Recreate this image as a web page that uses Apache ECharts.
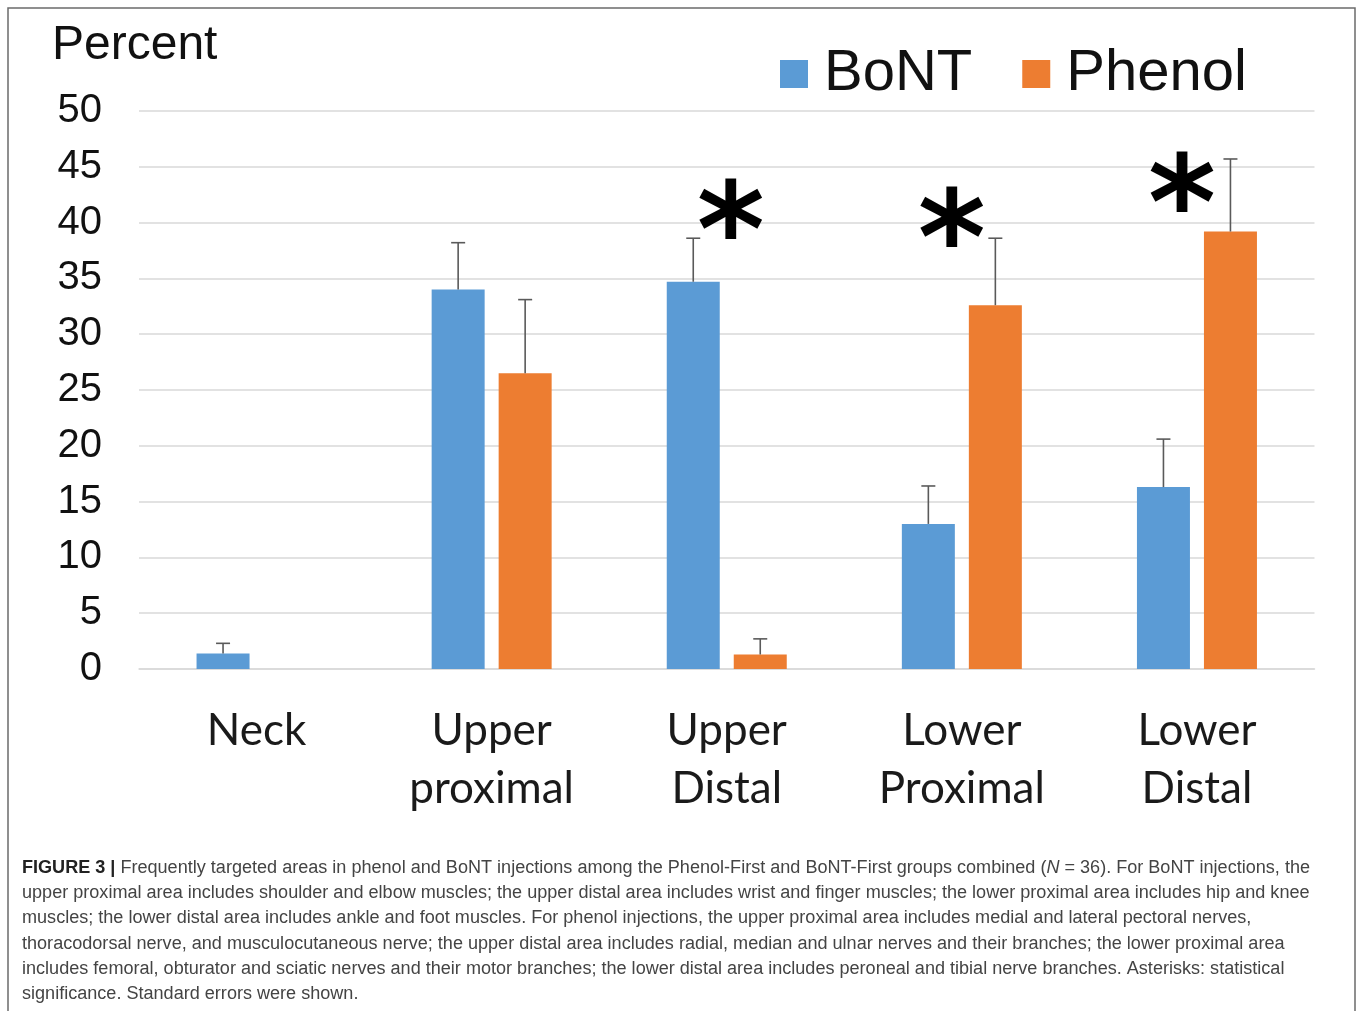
<!DOCTYPE html>
<html><head><meta charset="utf-8">
<script src="https://cdn.jsdelivr.net/npm/echarts@6/dist/echarts.min.js"></script>
<style>html,body{margin:0;padding:0;background:#fff}#c{width:1357px;height:1011px}</style>
</head><body><div id="c"></div>
<script>
// ---- data ----
const categories = ['Neck', 'Upper\nproximal', 'Upper\nDistal', 'Lower\nProximal', 'Lower\nDistal'];
const seriesNames = ['BoNT', 'Phenol'];
const bontValues = [1.4, 34.0, 34.7, 13.0, 16.3];
const phenolValues = [0, 26.5, 1.3, 32.6, 39.2];
const bontErrTop = [2.3, 38.2, 38.6, 16.4, 20.6];
const phenolErrTop = [null, 33.1, 2.7, 38.6, 45.7];
const asteriskCats = [2, 3, 4];
const asteriskValues = [41.4, 40.6, 43.8];
const yMin = 0, yMax = 50, yStep = 5;
const yTitle = 'Percent';
const captionLines = [
  'Frequently targeted areas in phenol and BoNT injections among the Phenol-First and BoNT-First groups combined (',
  'upper proximal area includes shoulder and elbow muscles; the upper distal area includes wrist and finger muscles; the lower proximal area includes hip and knee',
  'muscles; the lower distal area includes ankle and foot muscles. For phenol injections, the upper proximal area includes medial and lateral pectoral nerves,',
  'thoracodorsal nerve, and musculocutaneous nerve; the upper distal area includes radial, median and ulnar nerves and their branches; the lower proximal area',
  'includes femoral, obturator and sciatic nerves and their motor branches; the lower distal area includes peroneal and tibial nerve branches. Asterisks: statistical',
  'significance. Standard errors were shown.'
];
const captionLead = 'FIGURE 3 |';
const captionTail = ' = 36). For BoNT injections, the';

// ---- styles ----
const COL_B = '#5B9BD5', COL_P = '#ED7D31', ERR = '#5a5a5a';
const BAR_W = 53, BAR_GAP = 14;
const asteriskDx = [4, -10, -15];

const chart = echarts.init(document.getElementById('c'));

function errRender(offset) {
  return function (params, api) {
    const top = api.value(1);
    if (top == null || isNaN(top)) return;
    const pTop = api.coord([api.value(0), top]);
    const pBase = api.coord([api.value(0), api.value(2)]);
    const x = pTop[0] + offset;
    return {
      type: 'group', children: [
        { type: 'line', shape: { x1: x, y1: pBase[1], x2: x, y2: pTop[1] }, style: { stroke: ERR, lineWidth: 1.6 } },
        { type: 'line', shape: { x1: x - 7, y1: pTop[1], x2: x + 7, y2: pTop[1] }, style: { stroke: ERR, lineWidth: 1.6 } }
      ]
    };
  };
}

// caption measurement
const cv = document.createElement('canvas').getContext('2d');
const CAP_SIZE = 18;
cv.font = 'bold ' + CAP_SIZE + 'px "Liberation Sans"';
let w1 = cv.measureText(captionLead).width;
cv.font = CAP_SIZE + 'px "Liberation Sans"';
w1 += cv.measureText(' ' + captionLines[0]).width;
cv.font = 'italic ' + CAP_SIZE + 'px "Liberation Sans"';
w1 += cv.measureText('N').width;
cv.font = CAP_SIZE + 'px "Liberation Sans"';
w1 += cv.measureText(captionTail).width;
const capScale = 1288 / w1;

const captionGraphics = captionLines.map((line, i) => {
  const base = {
    type: 'text', x: 22, y: 868 + i * 25.2, scaleX: capScale, scaleY: 1,
    style: { fill: '#444', font: CAP_SIZE + 'px "Liberation Sans"', verticalAlign: 'middle', align: 'left' }
  };
  if (i === 0) {
    base.style.text = '{b|' + captionLead + '} ' + line + '{i|N}' + captionTail;
    base.style.rich = {
      b: { fontWeight: 'bold', fontSize: CAP_SIZE, fontFamily: 'Liberation Sans', fill: '#222', color: '#222' },
      i: { fontStyle: 'italic', fontSize: CAP_SIZE, fontFamily: 'Liberation Sans', fill: '#444', color: '#444' }
    };
  } else {
    base.style.text = line;
  }
  return base;
});

chart.setOption({
  animation: false,
  backgroundColor: '#fff',
  grid: { left: 139, right: 42.5, top: 111, bottom: 342, containLabel: false },
  legend: {
    data: seriesNames, left: 780, top: 44, padding: 0, icon: 'rect',
    itemWidth: 28, itemHeight: 28, itemGap: 50,
    textStyle: { fontSize: 58, fontFamily: 'Liberation Sans', color: '#111', lineHeight: 60, padding: [0, 0, 0, 11] }
  },
  xAxis: {
    type: 'category', data: categories,
    axisLine: { show: true, lineStyle: { color: '#d9d9d9', width: 1.5 } },
    axisTick: { show: false },
    axisLabel: { interval: 0, fontSize: 44, lineHeight: 58, fontFamily: 'Lato', color: '#1a1a1a', margin: 33 }
  },
  yAxis: {
    type: 'value', min: yMin, max: yMax, interval: yStep,
    axisLine: { show: false }, axisTick: { show: false },
    splitLine: { lineStyle: { color: '#d9d9d9', width: 1.5 } },
    axisLabel: { fontSize: 40, fontFamily: 'Liberation Sans', color: '#111', margin: 37 }
  },
  graphic: [
    { type: 'rect', shape: { x: 8, y: 8, width: 1347, height: 1030 }, style: { fill: 'none', stroke: '#6b6b6b', lineWidth: 1.5 }, silent: true },
    { type: 'text', x: 52, y: 45.5, style: { text: yTitle, font: '48px "Liberation Sans"', fill: '#111', verticalAlign: 'middle', align: 'left' } }
  ].concat(captionGraphics),
  series: [
    { name: 'BoNT', type: 'bar', data: bontValues, barWidth: BAR_W, barGap: (BAR_GAP / BAR_W * 100) + '%', itemStyle: { color: COL_B } },
    { name: 'Phenol', type: 'bar', data: phenolValues, barWidth: BAR_W, itemStyle: { color: COL_P } },
    {
      type: 'custom', renderItem: errRender(-(BAR_W + BAR_GAP) / 2), z: 5,
      data: bontErrTop.map((t, i) => [i, t, bontValues[i]]), encode: { x: 0, y: 1 }
    },
    {
      type: 'custom', renderItem: errRender((BAR_W + BAR_GAP) / 2), z: 5,
      data: phenolErrTop.map((t, i) => [i, t == null ? NaN : t, phenolValues[i]]), encode: { x: 0, y: 1 }
    },
    {
      type: 'custom', z: 6,
      data: asteriskCats.map((c, i) => [c, asteriskValues[i]]), encode: { x: 0, y: 1 },
      renderItem: function (params, api) {
        const p = api.coord([api.value(0), api.value(1)]);
        const fs = 130;
        return {
          type: 'text', x: p[0] + asteriskDx[params.dataIndex], y: p[1] + fs * 0.26,
          style: { text: '*', font: 'bold ' + fs + 'px "DejaVu Sans"', fill: '#000', align: 'center', verticalAlign: 'middle' }
        };
      }
    }
  ]
});
</script></body></html>
